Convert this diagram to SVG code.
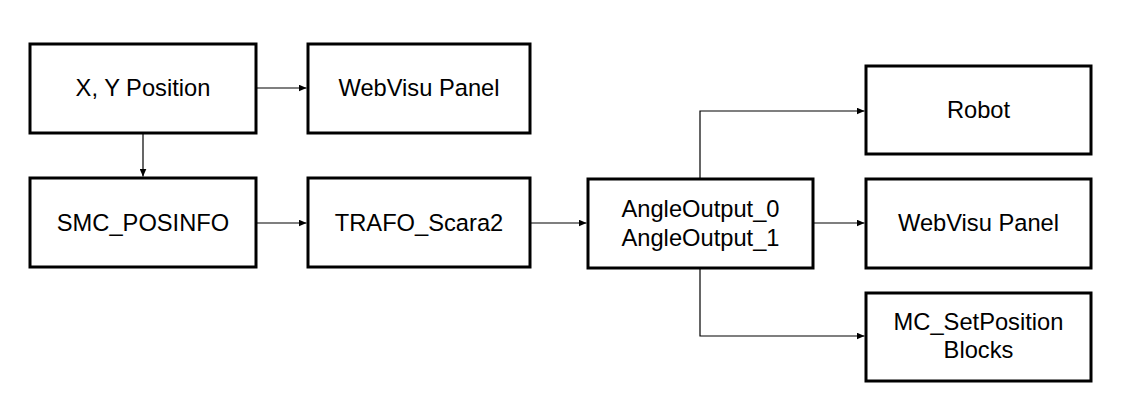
<svg xmlns="http://www.w3.org/2000/svg" width="1124" height="403" viewBox="0 0 1124 403">
<style>
.box{fill:#fff;stroke:#000;stroke-width:3}
.lbl{font-family:"Liberation Sans",Arial,sans-serif;font-size:23.7px;fill:#000;text-anchor:middle}
.con{fill:none;stroke:#000;stroke-width:1.2}
</style>
<defs>
<marker id="arr" markerUnits="userSpaceOnUse" markerWidth="9" markerHeight="7" refX="8" refY="3.5" orient="auto">
<path d="M0,0 L8,3.5 L0,7 z" fill="#000"/>
</marker>
</defs>
<rect width="1124" height="403" fill="#fff"/>
<g id="connectors">
<path class="con" d="M256,88 H306.5" marker-end="url(#arr)"/>
<path class="con" d="M143,133 V176.5" marker-end="url(#arr)"/>
<path class="con" d="M256,223 H306.5" marker-end="url(#arr)"/>
<path class="con" d="M530,223 H586.5" marker-end="url(#arr)"/>
<path class="con" d="M700,179 V111 H864.5" marker-end="url(#arr)"/>
<path class="con" d="M813,223 H864.5" marker-end="url(#arr)"/>
<path class="con" d="M700,268 V336 H864.5" marker-end="url(#arr)"/>
</g>
<g id="node-xy">
<rect class="box" x="30" y="44" width="226" height="89"/>
<text class="lbl" x="143" y="96">X, Y Position</text>
</g>
<g id="node-webvisu1">
<rect class="box" x="308" y="44" width="222" height="89"/>
<text class="lbl" x="419" y="96">WebVisu Panel</text>
</g>
<g id="node-smc">
<rect class="box" x="30" y="178" width="226" height="89"/>
<text class="lbl" x="143" y="231">SMC_POSINFO</text>
</g>
<g id="node-trafo">
<rect class="box" x="308" y="178" width="222" height="89"/>
<text class="lbl" x="419" y="231">TRAFO_Scara2</text>
</g>
<g id="node-angle">
<rect class="box" x="588" y="179" width="225" height="89"/>
<text class="lbl" x="700.5" y="217">AngleOutput_0</text>
<text class="lbl" x="700.5" y="246">AngleOutput_1</text>
</g>
<g id="node-robot">
<rect class="box" x="866" y="66" width="225" height="88"/>
<text class="lbl" x="978.5" y="118">Robot</text>
</g>
<g id="node-webvisu2">
<rect class="box" x="866" y="179" width="225" height="89"/>
<text class="lbl" x="978.5" y="231">WebVisu Panel</text>
</g>
<g id="node-mc">
<rect class="box" x="866" y="293" width="225" height="88"/>
<text class="lbl" x="978.5" y="330">MC_SetPosition</text>
<text class="lbl" x="978.5" y="358">Blocks</text>
</g>
</svg>
